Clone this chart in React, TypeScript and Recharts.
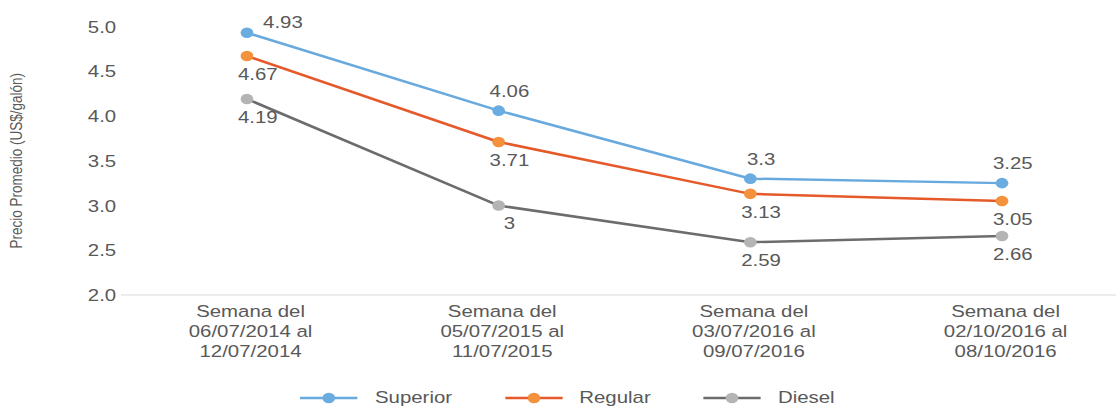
import { LineChart, Line, XAxis, YAxis } from 'recharts';

const categories = [
  ['Semana del', '06/07/2014 al', '12/07/2014'],
  ['Semana del', '05/07/2015 al', '11/07/2015'],
  ['Semana del', '03/07/2016 al', '09/07/2016'],
  ['Semana del', '02/10/2016 al', '08/10/2016'],
];
const superior = [4.93, 4.06, 3.3, 3.25];
const regular = [4.67, 3.71, 3.13, 3.05];
const diesel = [4.19, 3, 2.59, 2.66];
const yTicks = [2, 2.5, 3, 3.5, 4, 4.5, 5];

const series = [
  { key: 'superior', name: 'Superior', line: '#68a9de', dot: '#6aabe0', above: true },
  { key: 'regular', name: 'Regular', line: '#e5592a', dot: '#f3913d', above: false },
  { key: 'diesel', name: 'Diesel', line: '#6b6c6e', dot: '#b4b4b4', above: false },
];

const data = categories.map((c, i) => ({
  idx: i,
  superior: superior[i],
  regular: regular[i],
  diesel: diesel[i],
}));

const FONT = '"Liberation Sans", Arial, sans-serif';
const TEXT = '#595959';
const SX = 1.2;

const makeLabel = (above: boolean) => (p: any) => {
  let dx = 9;
  let dy = above ? -20 : 18;
  if (above && p.y + dy < 16) {
    dx = 30;
    dy = -11;
  }
  return (
    <text
      x={p.x + dx}
      y={p.y + dy}
      textAnchor="middle"
      dominantBaseline="central"
      fontSize={17}
      fill={TEXT}
      fontFamily={FONT}
    >
      {String(p.value)}
    </text>
  );
};

const XTick = ({ x, y, payload }: any) => {
  const lines = categories[payload.value] || [];
  return (
    <text x={x + 3} y={y + 22} textAnchor="middle" fontSize={17} fill={TEXT} fontFamily={FONT}>
      {lines.map((l, i) => (
        <tspan key={i} x={x + 3} dy={i === 0 ? 0 : 20}>
          {l}
        </tspan>
      ))}
    </text>
  );
};

function LegendRow() {
  return (
    <div
      style={{
        position: 'absolute',
        top: 389,
        left: 0,
        width: 940,
        display: 'flex',
        justifyContent: 'center',
        gap: 44,
        paddingLeft: 6,
        boxSizing: 'border-box',
        fontFamily: FONT,
        fontSize: 17,
        color: TEXT,
      }}
    >
      {series.map((s) => (
        <div key={s.key} style={{ display: 'flex', alignItems: 'center' }}>
          <svg width={48} height={18}>
            <line x1={0} x2={48} y1={9} y2={9} stroke={s.line} strokeWidth={2.5} />
            <circle cx={24} cy={9} r={5.3} fill={s.dot} />
          </svg>
          <span style={{ marginLeft: 14, lineHeight: '18px' }}>{s.name}</span>
        </div>
      ))}
    </div>
  );
}

export default function App() {
  return (
    <div
      style={{
        position: 'fixed',
        left: 0,
        top: 0,
        width: 1116,
        height: 408,
        overflow: 'hidden',
        background: '#fff',
      }}
    >
      <div
        style={{
          position: 'relative',
          width: 940,
          height: 408,
          transform: `scaleX(${SX})`,
          transformOrigin: '0 0',
        }}
      >
        <LineChart
          width={940}
          height={408}
          data={data}
          margin={{ top: 26.5, right: 0, left: 50.8, bottom: 53 }}
        >
          <XAxis
            dataKey="idx"
            type="category"
            tick={<XTick />}
            tickLine={false}
            tickSize={0}
            tickMargin={0}
            height={60}
            stroke="#d9d9d9"
            padding={{ left: 105, right: 105 }}
            interval={0}
          />
          <YAxis
            domain={[2, 5]}
            ticks={yTicks}
            width={50}
            axisLine={false}
            tickLine={false}
            tickSize={0}
            tickMargin={4}
            tickFormatter={(v: number) => v.toFixed(1)}
            tick={{ fontSize: 17, fill: TEXT, fontFamily: FONT }}
            label={{
              value: 'Precio Promedio (US$/galón)',
              angle: -90,
              position: 'insideLeft',
              offset: -37,
              style: { fontSize: 13.5, fill: TEXT, fontFamily: FONT, textAnchor: 'middle' },
            }}
          />
          {series.map((s) => (
            <Line
              key={s.key}
              dataKey={s.key}
              name={s.name}
              stroke={s.line}
              strokeWidth={2.5}
              dot={{ r: 5.3, fill: s.dot, stroke: 'none' }}
              activeDot={false}
              label={makeLabel(s.above)}
              isAnimationActive={false}
            />
          ))}
        </LineChart>
        <LegendRow />
      </div>
    </div>
  );
}
